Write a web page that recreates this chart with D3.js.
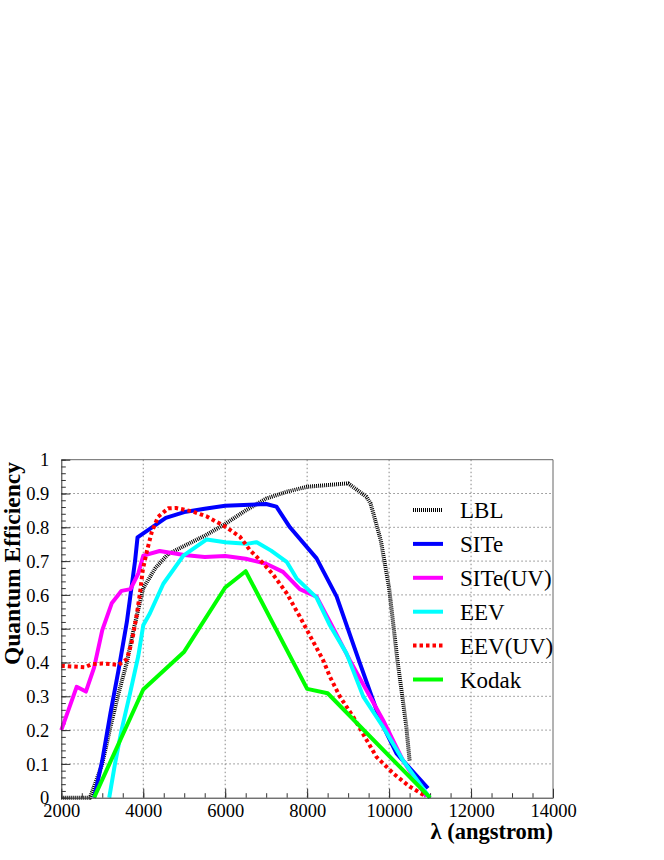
<!DOCTYPE html>
<html lang="en">
<head>
    <meta charset="UTF-8">
    <title>Quantum Efficiency</title>
    <script src="https://cdn.jsdelivr.net/npm/d3@7"></script>
    <style>
        body { margin: 0; background: #fff; }
        svg text { font-family: "Liberation Serif", "Times New Roman", serif; fill: #000; }
    </style>
</head>
<body>
    <div id="graphic"></div>

    <script>
        // Wavelength (angstrom) and quantum efficiency for each CCD
        var lblWave   = [2000, 2700, 3000, 3200, 3400, 3600, 3750, 4000, 4300, 4600, 5000, 5500, 6000, 6500, 7000, 7500, 8000, 8500, 9000, 9450, 9550, 9800, 10000, 10200, 10300, 10420, 10500];
        var lblQE     = [0, 0, 0.1, 0.21, 0.31, 0.4, 0.49, 0.62, 0.68, 0.72, 0.745, 0.775, 0.81, 0.85, 0.885, 0.905, 0.92, 0.925, 0.93, 0.89, 0.87, 0.76, 0.62, 0.41, 0.32, 0.21, 0.11];

        var siteWave  = [2800, 3000, 3200, 3400, 3600, 3800, 3860, 4550, 5000, 5500, 6000, 7000, 7250, 7580, 8230, 8720, 9260, 9780, 10180, 10950];
        var siteQE    = [0, 0.11, 0.25, 0.38, 0.52, 0.7, 0.77, 0.828, 0.845, 0.855, 0.864, 0.869, 0.861, 0.8, 0.708, 0.595, 0.407, 0.23, 0.131, 0.028];

        var siteUVWave = [2000, 2375, 2600, 2800, 3000, 3230, 3470, 3690, 3880, 4000, 4400, 5000, 5500, 6000, 6500, 7000, 7410, 7820, 8230, 8630, 9040, 9850, 10340, 10910];
        var siteUVQE   = [0.2, 0.328, 0.314, 0.385, 0.496, 0.575, 0.612, 0.617, 0.664, 0.716, 0.73, 0.718, 0.712, 0.715, 0.707, 0.692, 0.668, 0.617, 0.595, 0.503, 0.407, 0.23, 0.11, 0.003];

        var eevWave   = [3170, 3310, 3470, 3680, 3880, 4000, 4160, 4490, 4980, 5550, 6000, 6520, 6770, 7120, 7500, 7740, 8230, 8555, 8960, 9370, 9850, 10340, 10990];
        var eevQE     = [0, 0.1, 0.2, 0.31, 0.42, 0.51, 0.545, 0.633, 0.716, 0.764, 0.756, 0.751, 0.756, 0.731, 0.698, 0.649, 0.592, 0.51, 0.427, 0.299, 0.21, 0.11, 0];

        var eevUVWave = [2000, 2580, 2740, 3000, 3400, 3600, 3720, 3840, 3920, 3990, 4090, 4210, 4360, 4610, 4800, 5200, 5550, 6000, 6360, 6600, 6930, 7170, 7500, 7820, 8110, 8390, 8555, 8800, 9120, 9450, 9690, 10100, 10500, 10870];
        var eevUVQE   = [0.39, 0.386, 0.395, 0.397, 0.393, 0.41, 0.46, 0.54, 0.605, 0.675, 0.73, 0.787, 0.831, 0.856, 0.857, 0.847, 0.832, 0.802, 0.772, 0.733, 0.693, 0.66, 0.605, 0.536, 0.47, 0.407, 0.358, 0.299, 0.24, 0.171, 0.121, 0.072, 0.033, 0.006];

        var kodakWave = [2800, 4000, 5000, 6000, 6500, 8000, 8500, 11000];
        var kodakQE   = [0, 0.32, 0.432, 0.622, 0.67, 0.322, 0.309, 0];

        var seriesNames  = ["LBL", "SITe", "SITe(UV)", "EEV", "EEV(UV)", "Kodak"];
        var seriesColors = ["#000000", "#0000ff", "#ff00ff", "#00ffff", "#ff0000", "#00ff00"];
        var seriesDash   = ["1,1", null, null, null, "3.5,3", null];

        var xTicks = [2000, 4000, 6000, 8000, 10000, 12000, 14000];
        var yTicks = [0, 0.1, 0.2, 0.3, 0.4, 0.5, 0.6, 0.7, 0.8, 0.9, 1];

        var series = [
            [lblWave, lblQE], [siteWave, siteQE], [siteUVWave, siteUVQE],
            [eevWave, eevQE], [eevUVWave, eevUVQE], [kodakWave, kodakQE]
        ];

        var width = 664;
        var height = 860;
        var plotLeft = 61.3, plotRight = 553, plotTop = 459.7, plotBottom = 797.7;

        var x = d3.scaleLinear().domain([2000, 14000]).range([plotLeft, plotRight]);
        var y = d3.scaleLinear().domain([0, 1]).range([plotBottom, plotTop]);

        var svg = d3.select('#graphic')
                    .append('svg')
                    .attr('width', width)
                    .attr('height', height);

        // grid
        svg.append('g').selectAll('line')
            .data(xTicks.slice(1, -1))
            .join('line')
            .attr('x1', d => x(d)).attr('x2', d => x(d))
            .attr('y1', plotTop).attr('y2', plotBottom)
            .attr('stroke', '#888').attr('stroke-width', 1)
            .attr('stroke-dasharray', '1.5,2.5');
        svg.append('g').selectAll('line')
            .data(yTicks.slice(1, -1))
            .join('line')
            .attr('x1', plotLeft).attr('x2', plotRight)
            .attr('y1', d => y(d)).attr('y2', d => y(d))
            .attr('stroke', '#888').attr('stroke-width', 1)
            .attr('stroke-dasharray', '1.5,2.5');

        // frame top / right
        svg.append('path')
            .attr('d', `M${plotLeft},${plotTop}H${plotRight}V${plotBottom}`)
            .attr('fill', 'none')
            .attr('stroke', '#666').attr('stroke-width', 1);

        // minor ticks
        var xMinor = d3.axisBottom(x).tickValues(d3.range(2000, 14001, 500)).tickSize(-4.5).tickFormat('');
        var yMinor = d3.axisLeft(y).tickValues(d3.range(0, 1.0001, 0.02)).tickSize(-4.5).tickFormat('');
        svg.append('g').attr('transform', `translate(0,${plotBottom})`).call(xMinor)
            .call(g => g.select('.domain').remove())
            .selectAll('line').attr('stroke', '#333');
        svg.append('g').attr('transform', `translate(${plotLeft},0)`).call(yMinor)
            .call(g => g.select('.domain').remove())
            .selectAll('line').attr('stroke', '#333');

        // curves
        var line = d3.line().x(d => x(d[0])).y(d => y(d[1]));
        series.forEach(function(s, i) {
            var pts = s[0].map((w, j) => [w, s[1][j]]);
            svg.append('path')
                .datum(pts)
                .attr('d', line)
                .attr('fill', 'none')
                .attr('stroke', seriesColors[i])
                .attr('stroke-width', 4)
                .attr('stroke-linejoin', 'round')
                .attr('stroke-dasharray', seriesDash[i]);
        });

        // major ticks and labels
        var xAxis = d3.axisBottom(x).tickValues(xTicks).tickSizeInner(-9).tickSizeOuter(0).tickFormat(d3.format('d'));
        var yAxis = d3.axisLeft(y).tickValues(yTicks).tickSizeInner(-9).tickSizeOuter(0).tickFormat(d => String(d));

        var gx = svg.append('g').attr('transform', `translate(0,${plotBottom})`).call(xAxis);
        gx.select('.domain').attr('stroke', '#333');
        gx.selectAll('line').attr('stroke', '#333');
        gx.selectAll('text')
            .attr('y', 19).attr('dy', 0)
            .style('font-family', '"Liberation Serif", serif')
            .style('font-size', '18.5px').attr('fill', '#000');

        var gy = svg.append('g').attr('transform', `translate(${plotLeft},0)`).call(yAxis);
        gy.select('.domain').attr('stroke', '#333');
        gy.selectAll('line').attr('stroke', '#333');
        gy.selectAll('text')
            .attr('x', -12).attr('dy', '0.34em')
            .style('font-family', '"Liberation Serif", serif')
            .style('font-size', '18.5px').attr('fill', '#000');

        // legend
        var legend = svg.append('g');
        seriesNames.forEach(function(name, i) {
            var ly = 510 + i * 33.9;
            legend.append('line')
                .attr('x1', 413).attr('x2', 443)
                .attr('y1', ly).attr('y2', ly)
                .attr('stroke', seriesColors[i])
                .attr('stroke-width', 4)
                .attr('stroke-dasharray', seriesDash[i]);
            legend.append('text')
                .attr('x', 460).attr('y', ly + 8)
                .style('font-size', '23px')
                .text(name);
        });

        // axis titles
        svg.append('text')
            .attr('transform', `translate(20,462) rotate(-90)`)
            .attr('text-anchor', 'end')
            .style('font-size', '23.5px').style('font-weight', 'bold')
            .text('Quantum Efficiency');

        svg.append('text')
            .attr('x', plotRight).attr('y', 839)
            .attr('text-anchor', 'end')
            .style('font-size', '22.5px').style('font-weight', 'bold')
            .text('λ (angstrom)');
    </script>
</body>
</html>
